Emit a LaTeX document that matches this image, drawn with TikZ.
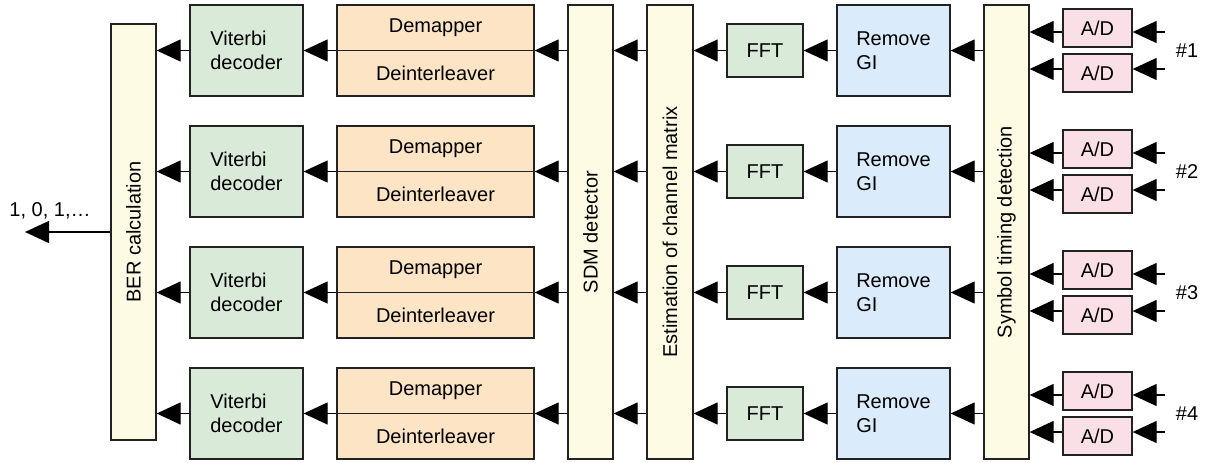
\documentclass[tikz,border=0pt]{standalone}
\usepackage{fontspec}
\setmainfont{Liberation Sans}
\usetikzlibrary{arrows.meta}
\definecolor{cyel}{RGB}{254,251,228}
\definecolor{cgrn}{RGB}{218,234,216}
\definecolor{corg}{RGB}{252,228,196}
\definecolor{cblu}{RGB}{218,235,252}
\definecolor{cpnk}{RGB}{250,224,230}
\definecolor{cedge}{RGB}{34,34,34}
\begin{document}
\begin{tikzpicture}[x=1pt,y=-1pt,
  every node/.style={font=\fontsize{20}{24}\selectfont},
  blk/.style={draw=cedge,line width=1.3pt,inner sep=0pt,anchor=center},
  tallbox/.style={blk,fill=cyel,minimum width=45pt},
  vitbox/.style={blk,fill=cgrn,minimum width=113pt,minimum height=91pt,align=left},
  dembox/.style={blk,fill=corg,minimum width=197pt,minimum height=91pt},
  fftbox/.style={blk,fill=cgrn,minimum width=76pt,minimum height=53pt},
  rgbox/.style={blk,fill=cblu,minimum width=113pt,minimum height=91pt,align=left},
  adbox/.style={blk,fill=cpnk,minimum width=69pt,minimum height=38pt},
  arr/.style={line width=1.3pt,draw=black,-{Triangle[length=24pt,width=22pt]}},
  sep/.style={line width=1.3pt,draw=cedge},
  lbl/.style={inner sep=0pt}
]
\useasboundingbox (0,0) rectangle (1210,463);
% tall boxes
\node[tallbox,minimum height=416pt] (ber) at (133.5,232) {\rotatebox{90}{BER calculation}};
\node[tallbox,minimum height=454pt] (sdm) at (590.5,232) {\rotatebox{90}{SDM detector}};
\node[tallbox,minimum width=46pt,minimum height=454pt] (est) at (670,232) {\rotatebox{90}{Estimation of channel matrix}};
\node[tallbox,minimum height=454pt] (sym) at (1006.5,232) {\rotatebox{90}{Symbol timing detection}};
% rows
\foreach \k/\c in {1/50.5,2/171.5,3/292.5,4/413.5}{
  \node[vitbox] (vit\k) at (246.5,\c) {Viterbi\\decoder};
  \node[dembox] (dm\k) at (435.5,\c) {};
  \draw[sep] (dm\k.west) -- (dm\k.east);
  \node[lbl] (dem\k) at (435.5,\c-22.75) {Demapper};
  \node[lbl] (dei\k) at (435.5,\c+22.75) {Deinterleaver};
  \node[fftbox] (fft\k) at (765,\c) {FFT};
  \node[rgbox] (rg\k) at (893.5,\c) {Remove\\GI};
  \node[adbox] (ada\k) at (1097.5,\c-22.5) {A/D};
  \node[adbox] (adb\k) at (1097.5,\c+22.5) {A/D};
  \node[lbl] (num\k) at (1187,\c) {\#\k};
  \coordinate (ina\k) at (1165,\c-18.5);
  \coordinate (inb\k) at (1165,\c+18.5);
  % connectors
  \draw[arr] (ina\k) -- (ina\k -| ada\k.east);
  \draw[arr] (inb\k) -- (inb\k -| adb\k.east);
  \draw[arr] (ina\k -| ada\k.west) -- (ina\k -| sym.east);
  \draw[arr] (inb\k -| adb\k.west) -- (inb\k -| sym.east);
  \draw[arr] (sym.west |- rg\k) -- (rg\k.east);
  \draw[arr] (rg\k.west) -- (fft\k.east);
  \draw[arr] (fft\k.west) -- (est.east |- fft\k);
  \draw[arr] (est.west |- fft\k) -- (sdm.east |- fft\k);
  \draw[arr] (sdm.west |- vit\k) -- (dm\k.east);
  \draw[arr] (dm\k.west) -- (vit\k.east);
  \draw[arr] (vit\k.west) -- (ber.east |- vit\k);
}
\coordinate (out) at (25,232);
\draw[arr] (ber.west) -- (out);
\node[lbl] (outlbl) at (50,211) {1, 0, 1,…};
\end{tikzpicture}
\end{document}
